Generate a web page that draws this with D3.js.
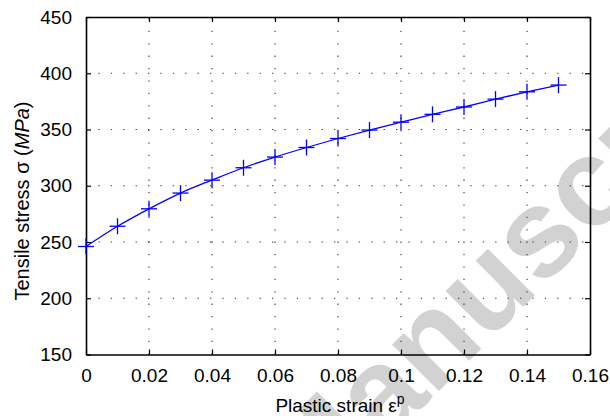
<!DOCTYPE html>
<html>
<head>
<meta charset="utf-8">
<script src="https://cdn.jsdelivr.net/npm/d3@7"></script>
<style>
  body { margin: 0; background: #fff; }
  text { font-family: "Liberation Sans", Arial, Helvetica, sans-serif; }
</style>
</head>
<body>
<script>
// plastic strain (x) and tensile stress in MPa (y)
var strain = [0, 0.01, 0.02, 0.03, 0.04, 0.05, 0.06, 0.07, 0.08, 0.09, 0.10, 0.11, 0.12, 0.13, 0.14, 0.15];
var stress = [246, 264, 279.5, 293.5, 305, 316, 325.5, 334, 342, 349.5, 356.5, 363.5, 370, 377, 383.5, 389.5];

var xTicks = [0, 0.02, 0.04, 0.06, 0.08, 0.1, 0.12, 0.14, 0.16];
var yTicks = [150, 200, 250, 300, 350, 400, 450];

var W = 610, H = 416;
// plot box (window.top is taken, so own names)
var pLeft = 86, pRight = 590, pTop = 17, pBottom = 354.5;

var svg = d3.select("body").append("svg")
  .attr("width", W)
  .attr("height", H);

// watermark behind everything
svg.append("text")
  .attr("transform", "translate(310,520) rotate(-45)")
  .attr("font-size", 125)
  .attr("font-weight", "bold")
  .attr("fill", "#d2d2d2")
  .text("Manuscript");

var x = d3.scaleLinear().domain([0, 0.16]).range([pLeft, pRight]);
var y = d3.scaleLinear().domain([150, 450]).range([pBottom, pTop]);

// dotted grid
var grid = svg.append("g");
grid.selectAll(".gx").data(xTicks.slice(1, -1)).enter().append("line")
  .attr("x1", d => x(d)).attr("x2", d => x(d))
  .attr("y1", pBottom).attr("y2", pTop)
  .attr("stroke", "#333").attr("stroke-width", 1.1)
  .attr("stroke-dasharray", "1.3,11.1");
grid.selectAll(".gy").data(yTicks.slice(1, -1)).enter().append("line")
  .attr("y1", d => y(d)).attr("y2", d => y(d))
  .attr("x1", pLeft).attr("x2", pRight)
  .attr("stroke", "#333").attr("stroke-width", 1.1)
  .attr("stroke-dasharray", "1.3,11.1");

// axes with inward ticks, box on
var fmt = d => d3.format("~g")(d);
var tk = 5;
svg.append("g").attr("transform", "translate(0," + pBottom + ")")
  .call(d3.axisBottom(x).tickValues(xTicks).tickFormat(fmt).tickSizeInner(-tk).tickSizeOuter(0).tickPadding(14));
svg.append("g").attr("transform", "translate(0," + pTop + ")")
  .call(d3.axisTop(x).tickValues(xTicks).tickFormat("").tickSizeInner(-tk).tickSizeOuter(0));
svg.append("g").attr("transform", "translate(" + pLeft + ",0)")
  .call(d3.axisLeft(y).tickValues(yTicks).tickFormat(fmt).tickSizeInner(-tk).tickSizeOuter(0).tickPadding(14));
svg.append("g").attr("transform", "translate(" + pRight + ",0)")
  .call(d3.axisRight(y).tickValues(yTicks).tickFormat("").tickSizeInner(-tk).tickSizeOuter(0));

svg.selectAll(".domain").attr("stroke", "#000").attr("stroke-width", 1.6);
svg.selectAll(".tick line").attr("stroke", "#000").attr("stroke-width", 1.2);
svg.selectAll(".tick text")
  .attr("font-family", "'Liberation Sans', Arial, sans-serif")
  .attr("font-size", 19).attr("fill", "#000");

// curve and + markers
var pts = strain.map((s, i) => [s, stress[i]]);
svg.append("path")
  .datum(pts)
  .attr("fill", "none")
  .attr("stroke", "#0000ff")
  .attr("stroke-width", 1.3)
  .attr("d", d3.line().x(d => x(d[0])).y(d => y(d[1])).curve(d3.curveCatmullRom));

var m = 8;
var mk = svg.append("g").attr("stroke", "#0000ff").attr("stroke-width", 1.3);
mk.selectAll(".h").data(pts).enter().append("line")
  .attr("x1", d => x(d[0]) - m).attr("x2", d => x(d[0]) + m)
  .attr("y1", d => y(d[1])).attr("y2", d => y(d[1]));
mk.selectAll(".v").data(pts).enter().append("line")
  .attr("x1", d => x(d[0])).attr("x2", d => x(d[0]))
  .attr("y1", d => y(d[1]) - m).attr("y2", d => y(d[1]) + m);

// axis labels
var xl = svg.append("text")
  .attr("x", 340).attr("y", 412)
  .attr("text-anchor", "middle")
  .attr("font-size", 19);
xl.append("tspan").text("Plastic strain \u03b5");
xl.append("tspan").attr("font-size", 14).attr("dy", -8).text("p");

var yl = svg.append("text")
  .attr("transform", "translate(29,201) rotate(-90)")
  .attr("text-anchor", "middle")
  .attr("font-size", 20);
yl.append("tspan").text("Tensile stress \u03c3 (");
yl.append("tspan").attr("font-style", "italic").text("MPa");
yl.append("tspan").text(")");
</script>
</body>
</html>
